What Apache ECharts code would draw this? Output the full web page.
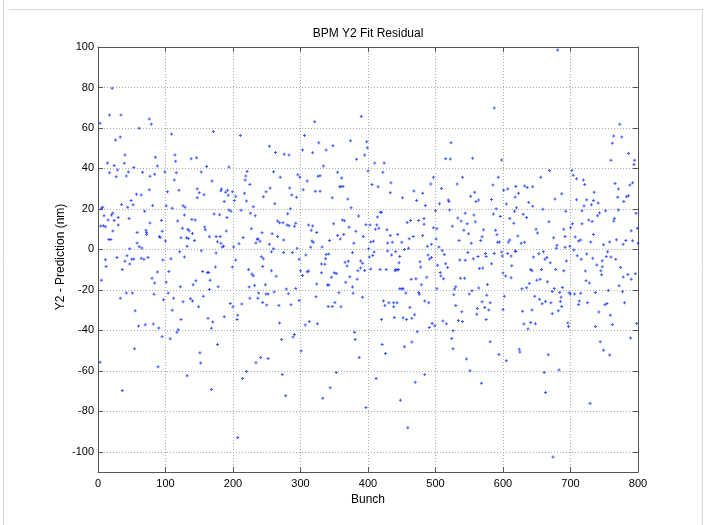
<!DOCTYPE html>
<html><head><meta charset="utf-8">
<script src="https://cdn.jsdelivr.net/npm/echarts@6/dist/echarts.min.js"></script>
<style>html,body{margin:0;padding:0;background:#fff}#c{width:711px;height:525px}</style>
</head><body><div id="c"></div>
<script>
// [bunch, residual (nm)], grouped by bunch range
const seg000 = [[21,79.6],[17,66.4],[34,66.4],[3,62.3],[76,64.4],[79,61.8],[61,59.8],[26,54],[33,55.5],[40,46.6],[14,42.7],[24,41.4],[17,37.9],[29,39.2],[27,35.9],[39,42.5],[42,36.2],[45,38.2],[53,40.4],[66,38.1],[85,45.5],[88,41.2],[77,36.1],[84,37.1],[99,38.2],[57,27.3],[64,26.9],[76,29.5],[49,24.1],[35,22.2],[52,22.1],[44,20.8],[81,21.7],[5,20.3],[7,20.8],[9,16.6],[22,18],[20,17],[69,18.9],[30,15.7],[15,14.5],[24,14.3],[46,15.3],[94,14.3],[4,11.5],[8,11.7],[11,11.2],[30,12],[77,13],[22,9.1],[58,8.4],[71,9.4],[72,8.4],[72,7.4],[91,6.4],[92,5.9],[95,8.9],[16,4.9],[19,4.9],[58,3.1],[47,0.3],[61,1.3],[65,0.7],[43,-3.1],[28,-4],[64,-4.4],[68,-4.9],[74,-4],[53,-4.8],[50,-4.9],[11,-5.1],[40,-5.9],[96,-5.3],[12,-8.4],[47,-7.2],[36,-9.9],[5,-15.2],[88,-11.2],[80,-14.3],[84,-16.6],[42,-21.6],[51,-21.6],[33,-24.1],[83,-22.2],[97,-24.9],[55,-30.3],[60,-37.9],[70,-37.2],[82,-36.9],[90,-38.9],[95,-43.2],[54,-49.1],[3,-55.8],[89,-58],[36,-69.7]];
const seg100 = [[109,57],[171,58.2],[114,46.6],[115,43.5],[138,44.8],[146,45.3],[194,40.7],[161,41],[153,38.2],[116,37.9],[113,34.3],[169,33.8],[103,28.5],[120,29.2],[147,29.8],[150,28],[157,27],[147,25.5],[183,29.8],[182,29],[192,29.2],[189,28.2],[199,28.5],[193,26.7],[187,23.6],[202,24.2],[101,21.6],[110,20.3],[126,21.6],[129,20.8],[194,19.4],[197,18.9],[172,17.5],[180,17.1],[191,15.8],[118,14],[128,17],[139,14.8],[144,14.5],[125,10.5],[133,10],[135,9.2],[140,7.9],[158,11],[159,9.7],[190,9.1],[123,5.8],[131,5.8],[134,5.4],[165,6.3],[175,6.4],[181,6.4],[143,4.4],[100,4.1],[177,3.8],[182,3],[186,1.6],[184,1.2],[132,1.5],[201,1.2],[121,-1.2],[153,-0.7],[175,-1.8],[128,-3.8],[108,-4.6],[199,-8.7],[174,-8.7],[105,-10.9],[155,-10.9],[162,-11.4],[164,-11.4],[166,-15.2],[145,-15.5],[141,-17.5],[101,-16.3],[122,-18.5],[178,-18.5],[165,-19.8],[156,-23.1],[104,-21.6],[112,-24.1],[137,-24.4],[140,-25.5],[126,-25.9],[149,-28.3],[196,-26.7],[200,-28.3],[110,-30.1],[187,-33.3],[163,-34],[170,-35.9],[123,-34.6],[168,-39],[119,-39.7],[117,-41],[107,-44.2],[177,-47],[151,-51.1],[152,-56.2],[132,-62.4],[168,-69.2]];
const seg200 = [[211,56.3],[254,50.9],[263,47.9],[276,47],[283,46.6],[306,56.3],[303,49.1],[260,38.4],[221,38.5],[219,36.2],[218,34.3],[225,32.1],[270,35.6],[296,36.9],[299,35.7],[204,26.2],[217,27.7],[255,30.3],[249,28.5],[245,26],[284,30.3],[287,26.9],[294,25.7],[220,23.9],[262,22.6],[230,21.1],[212,19.3],[226,17.8],[233,16.6],[285,20.1],[281,17.6],[266,14],[269,13.2],[274,13.2],[280,12],[283,11.7],[291,11.4],[293,12.9],[227,10.2],[243,8.2],[258,7.7],[266,6.4],[215,5.9],[237,5.3],[236,4.9],[240,4],[234,3.1],[275,4.6],[254,2.5],[209,2.8],[295,0.5],[260,0.3],[257,-1.2],[275,-1.5],[288,-1.5],[242,-3.6],[245,-4.6],[298,-4.9],[204,-5.3],[223,-10],[228,-12.2],[230,-13],[244,-8.4],[257,-10.5],[264,-13.3],[300,-10.5],[303,-12.9],[224,-18.6],[232,-17.8],[248,-17.5],[249,-22.1],[252,-22.1],[261,-21.1],[279,-19.6],[282,-21.9],[293,-19.3],[238,-21.6],[225,-24.1],[237,-24.2],[244,-26.2],[250,-27.5],[268,-27.7],[286,-27.3],[298,-25.2],[213,-27],[207,-32.6],[206,-34.6],[269,-36.4],[272,-44.5],[291,-42],[289,-43.3],[301,-50.2],[234,-56],[241,-53.4],[252,-53.9],[220,-60.3],[214,-63.8],[273,-61.8],[278,-72.3],[207,-93],[304,29.5]];
const seg300 = [[321,63.1],[390,65.7],[318,47.8],[327,52.7],[338,49.1],[348,51.2],[374,53.7],[398,53.2],[399,50.2],[395,46.6],[383,44.5],[410,42.7],[334,41.2],[326,36.1],[329,36.4],[355,38.1],[361,35.3],[358,31],[360,31.1],[363,31.1],[310,33.8],[400,38.7],[406,32.1],[322,28.7],[329,28.7],[347,25.5],[370,24.9],[375,20.6],[386,16.5],[312,12],[318,11.5],[316,9.4],[324,8.4],[349,12.7],[362,14.5],[365,14.2],[372,10.9],[382,8.9],[397,12.2],[403,12],[393,6.4],[355,6.8],[359,5.1],[364,7.4],[317,4.1],[319,3.5],[343,4.4],[379,3],[404,3.6],[408,4],[315,1],[332,1.2],[401,0.3],[409,-1.3],[377,-1.5],[308,-2.8],[338,-2.5],[342,-2.3],[337,-4.6],[336,-7.4],[331,-7.2],[366,-6.3],[371,-5.9],[389,-5.8],[392,-6.8],[369,-8.2],[389,-9.2],[395,-10.4],[402,-3.8],[407,-3],[404,-9.7],[385,-10.5],[310,-11],[312,-10.7],[331,-11.5],[350,-11.5],[353,-11.9],[346,-13.8],[373,-13.5],[384,-14.7],[324,-17.1],[340,-17.6],[342,-17.6],[367,-16.3],[377,-18.6],[357,-21.4],[378,-21.7],[392,-23.6],[323,-23.4],[341,-28.2],[347,-28.2],[360,-28.3],[351,-26.2],[313,-35.6],[307,-37.4],[325,-36.7],[380,-40.9],[381,-44.5],[387,-53.4],[353,-60.8],[344,-68.4],[333,-73.6],[397,-78.1]];
const seg400 = [[424,42.7],[422,38.1],[415,31],[434,32.9],[433,28],[451,25.5],[468,28.8],[472,24.1],[481,27.7],[485,21.7],[497,35.6],[493,32.3],[509,30.1],[506,22.6],[515,44.8],[500,19.1],[418,18.3],[420,18.3],[414,16],[413,12],[411,10],[416,10.4],[428,9.7],[433,6.8],[444,7.4],[458,13.3],[463,14.3],[475,14.3],[483,15.3],[483,12.4],[497,10.7],[502,10.2],[467,6.4],[461,5.3],[481,6.9],[501,5.1],[429,3.1],[436,3.5],[450,3.5],[454,0],[460,0.5],[488,1.5],[494,2.5],[505,1.2],[510,-0.7],[429,-0.8],[441,-1.2],[435,-2.8],[447,-3.5],[489,-2.8],[491,-4.8],[494,-4],[477,-6.1],[446,-6.6],[513,-2.5],[515,-7.1],[418,-9.9],[427,-9.9],[440,-10.5],[441,-9.9],[443,-10.2],[445,-10],[478,-8.7],[503,-7.9],[507,-11.4],[512,-14.5],[508,-13.2],[487,-13.8],[464,-14.8],[471,-14.5],[479,-17.5],[447,-19.4],[450,-19.4],[452,-19.4],[456,-21.6],[475,-21.3],[476,-22.2],[484,-25.5],[490,-26.4],[502,-19.4],[423,-25.5],[425,-27.7],[431,-26.4],[438,-28.3],[438,-26.4],[443,-26.4],[462,-28.7],[420,-34.6],[439,-33.6],[452,-33.8],[457,-34.6],[465,-34],[469,-32.3],[473,-40.7],[491,-38.6],[495,-36.6],[499,-37.7],[511,-35.4],[421,-47],[426,-51.4],[454,-48.1],[465,-45.8],[412,-63.8],[470,-65.6],[484,-61.8],[448,-74.6],[459,-88.1]];
const seg500 = [[587,69.9],[523,52.7],[522,44.6],[555,45],[598,44.2],[540,35.6],[532,32.3],[552,26.2],[558,28.2],[560,23.7],[564,24.4],[519,24.4],[520,23.7],[583,24.7],[585,31.8],[593,35.6],[601,29.2],[607,29.8],[605,22.4],[521,19.4],[590,20.1],[586,17.5],[596,16.3],[617,18.9],[544,17.8],[557,17],[559,13.7],[533,15.5],[538,14],[547,12.7],[525,11.4],[542,9.4],[571,9.7],[589,9.4],[610,15.2],[616,12.9],[549,7.7],[569,6.3],[567,4.4],[535,4.4],[553,3],[592,3.5],[595,3.6],[591,7.2],[608,3.6],[610,4.6],[548,-1.6],[574,-2],[575,-3.5],[587,-2],[598,-1.3],[599,-3.3],[607,-2],[618,-0.8],[612,-3.3],[536,-5.3],[544,-5.4],[556,-4.6],[563,-3.5],[583,-7.1],[518,-8.9],[565,-9.4],[570,-9.2],[613,-8.1],[600,-11.7],[604,-13.2],[612,-14],[537,-14.3],[543,-14.3],[577,-17.3],[530,-18.5],[528,-19.6],[554,-20.4],[564,-19.1],[550,-22.1],[527,-22.4],[576,-22.7],[602,-23.2],[569,-25.9],[581,-26.4],[573,-28.7],[579,-30],[562,-29.2],[530,-27.7],[600,-29.7],[561,-32.1],[539,-30.8],[534,-35.1],[540,-35.6],[575,-34.6],[516,-36.7],[526,-40.2],[524,-44],[526,-49.1],[581,-45.6],[594,-51.9],[546,-54.2],[605,-55],[551,-60],[568,-66.2]];
const seg600 = [[681,98.5],[669,39],[702,39],[704,36.6],[709,34.9],[719,34.3],[721,32],[656,35.6],[619,31.1],[632,31.3],[636,30.6],[644,31],[623,27.7],[618,25.9],[638,23.2],[644,21.3],[620,20.6],[659,19.8],[677,24.9],[687,27.5],[693,18.9],[709,24.5],[720,21.4],[717,19.1],[630,17.3],[635,15.7],[668,13.7],[649,10],[651,8.1],[690,10],[700,10.7],[703,12.7],[717,12.7],[675,5.8],[692,6.4],[707,6.1],[712,4.1],[715,4.6],[622,6.6],[627,3],[632,3.5],[680,2],[679,0.5],[692,1],[699,1.6],[619,-1],[653,-2.1],[660,-1.2],[645,-3.8],[662,-4.9],[665,-4],[670,-6.6],[694,-5.8],[705,-0.3],[710,-3.1],[716,-4.9],[641,-10],[643,-10.5],[657,-9.9],[678,-10],[690,-10.5],[722,-10.7],[650,-15.2],[655,-14.8],[666,-16],[628,-19.4],[635,-18.9],[639,-16.8],[676,-19.3],[688,-18.8],[698,-21.4],[700,-22.1],[706,-22.1],[715,-21.7],[673,-20.8],[684,-21.3],[647,-23.1],[654,-24.7],[658,-26.9],[663,-25.7],[686,-23.6],[671,-26.4],[685,-25.7],[713,-25.5],[712,-27.2],[687,-28.2],[682,-30.3],[673,-31.8],[643,-30],[629,-30.6],[631,-36.9],[641,-36.1],[648,-36.7],[637,-39.4],[696,-36.4],[697,-38.1],[624,-49.4],[625,-50.7],[667,-52.1],[661,-60.8],[683,-59.6],[663,-70.7],[674,-102.6]];
const seg700 = [[773,61.8],[764,56],[776,55.5],[762,52.4],[786,47.4],[760,44],[795,44],[794,42],[766,32.6],[792,32.9],[788,31.8],[771,29.8],[735,28.2],[770,25.7],[783,26],[786,26.5],[724,24.5],[734,24.2],[741,22.9],[731,22.1],[779,23.7],[743,18],[740,16.6],[752,19.1],[771,19.4],[797,17.8],[765,15.2],[764,14],[727,14.5],[732,13.8],[790,9.2],[799,10.5],[734,7.4],[730,3.6],[749,2.3],[758,3.6],[768,4.8],[778,2.5],[782,4.4],[792,4.3],[800,3],[755,-1.2],[724,-2.3],[753,-3.5],[760,-3.8],[733,-4.4],[767,-4.9],[747,-5.6],[739,-7.7],[747,-8.6],[774,-8.9],[745,-10.5],[746,-12.5],[723,-15.5],[728,-16.6],[778,-13.7],[785,-12.4],[796,-12],[790,-14.8],[756,-20.3],[772,-18],[777,-20.9],[737,-21.3],[725,-26.4],[751,-27.3],[754,-26.7],[780,-26.4],[742,-31],[759,-32.6],[762,-37.1],[737,-38.1],[798,-36.6],[789,-43.8],[744,-45.6],[749,-49.9],[758,-52.2],[729,-76.1]];

const xTicks = [0,100,200,300,400,500,600,700,800];
const yTicks = [-100,-80,-60,-40,-20,0,20,40,60,80,100];
const xRange = [0, 800];
const yRange = [-110, 100];
const titleText = 'BPM Y2 Fit Residual';
const xName = 'Bunch';
const yName = 'Y2 - Prediction (nm)';

const points = [].concat(seg000, seg100, seg200, seg300, seg400, seg500, seg600, seg700);

const FONT = '"Liberation Sans", Arial, Helvetica, sans-serif';
const AX = '#555555';
const GRID = '#a8a8a8';

const chart = echarts.init(document.getElementById('c'), null, {renderer: 'canvas'});

const baseAxisLine = {show: true, onZero: false, lineStyle: {color: AX, width: 1}};
const gridLine = {show: true, lineStyle: {color: GRID, width: 1, type: [1, 2]}};

chart.setOption({
  animation: false,
  backgroundColor: '#ffffff',
  graphic: [
    {type: 'line', silent: true, shape: {x1: 3.5, y1: 0, x2: 3.5, y2: 525}, style: {stroke: '#d6d6d6', lineWidth: 1}},
    {type: 'line', silent: true, shape: {x1: 9, y1: 9.5, x2: 702.5, y2: 9.5}, style: {stroke: '#d6d6d6', lineWidth: 1}},
    {type: 'line', silent: true, shape: {x1: 702.5, y1: 9.5, x2: 702.5, y2: 525}, style: {stroke: '#d6d6d6', lineWidth: 1}},
    {type: 'text', silent: true, x: 368, y: 34, style: {text: titleText, align: 'center', verticalAlign: 'middle', fontFamily: FONT, fontSize: 12, fill: '#000'}},
    {type: 'text', silent: true, x: 61, y: 257, rotation: Math.PI / 2, style: {text: yName, align: 'center', verticalAlign: 'middle', fontFamily: FONT, fontSize: 12, fill: '#000'}}
  ],
  grid: {left: 98, right: 73, top: 47, bottom: 53, containLabel: false},
  xAxis: [
    {
      type: 'value', min: xRange[0], max: xRange[1], interval: 100, position: 'bottom',
      name: xName, nameLocation: 'middle', nameGap: 20,
      nameTextStyle: {fontFamily: FONT, fontSize: 12, color: '#000'},
      axisLine: baseAxisLine,
      axisTick: {show: true, inside: true, length: 5, lineStyle: {color: AX}},
      axisLabel: {show: true, margin: 6, fontFamily: FONT, fontSize: 11, color: '#000', customValues: xTicks},
      splitLine: gridLine
    },
    {
      type: 'value', min: xRange[0], max: xRange[1], interval: 100, position: 'top',
      axisLine: baseAxisLine,
      axisTick: {show: true, inside: true, length: 5, lineStyle: {color: AX}},
      axisLabel: {show: false},
      splitLine: {show: false}
    }
  ],
  yAxis: [
    {
      type: 'value', min: yRange[0], max: yRange[1], position: 'left',
      axisLine: baseAxisLine,
      axisTick: {show: true, inside: true, length: 5, lineStyle: {color: AX}, customValues: yTicks},
      axisLabel: {show: true, margin: 4, fontFamily: FONT, fontSize: 11, color: '#000', customValues: yTicks},
      splitLine: gridLine
    },
    {
      type: 'value', min: yRange[0], max: yRange[1], position: 'right',
      axisLine: baseAxisLine,
      axisTick: {show: true, inside: true, length: 5, lineStyle: {color: AX}, customValues: yTicks},
      axisLabel: {show: false},
      splitLine: {show: false}
    }
  ],
  series: [{
    type: 'scatter',
    xAxisIndex: 0, yAxisIndex: 0,
    data: points,
    symbol: 'path://M1,0H2V1H3V2H2V3H1V2H0V1H1Z',
    symbolSize: 3,
    itemStyle: {color: '#1030ff'},
    silent: true
  }]
});
</script>
</body></html>
